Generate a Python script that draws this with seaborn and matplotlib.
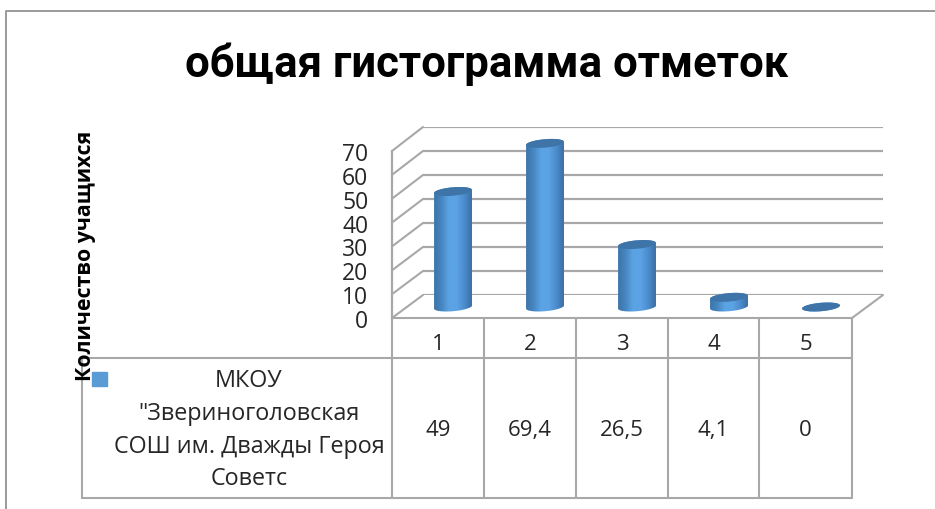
import numpy as np
import pandas as pd
import matplotlib
matplotlib.use("Agg")
import matplotlib.pyplot as plt
from matplotlib.colors import LinearSegmentedColormap
from matplotlib.patches import Polygon, Rectangle
import seaborn as sns

categories = ["1", "2", "3", "4", "5"]
values = [49, 69.4, 26.5, 4.1, 0]
yticks = [0, 10, 20, 30, 40, 50, 60, 70]
title = "общая гистограмма отметок"
ylabel = "Количество учащихся"
series_lines = ["МКОУ", "\"Звериноголовская", "СОШ им. Дважды Героя", "Советс"]

sns.set_style("white")
FONT = ["Open Sans", "DejaVu Sans"]
plt.rcParams["font.family"] = FONT

W, H = 935, 510
GRAY = "#a8a8a8"
TXT = "#262626"
fig = plt.figure(figsize=(W / 100, H / 100), dpi=100, facecolor="white")


def px_axes(x0, y0, x1, y1, z):
    a = fig.add_axes([x0 / W, 1 - y1 / H, (x1 - x0) / W, (y1 - y0) / H], zorder=z)
    a.patch.set_alpha(0)
    return a


# overlay in pixel space: frame, walls, table, texts
ov = px_axes(0, 0, W, H, 0)
ov.set_xlim(0, W)
ov.set_ylim(H, 0)
ov.axis("off")
ov.plot([6, 6, W], [H, 12, 12], color="#9a9a9a", lw=1.4)

# back wall grid
back = px_axes(423, 128, 883, 296, 1)
back.set_ylim(0, 70)
back.set_yticks(yticks)
back.set_xticks([])
back.tick_params(left=False, labelleft=False)
back.grid(axis="y", color=GRAY, lw=1.6)
sns.despine(ax=back, left=True, right=True, top=True, bottom=True)

# front wall with the value axis
wall = px_axes(392, 152, 394, 319, 2)
wall.set_ylim(0, 70)
wall.set_yticks(yticks)
wall.set_xticks([])
wall.tick_params(axis="y", length=0, pad=17, labelsize=16.5, labelcolor=TXT)
for s in ("top", "right", "bottom"):
    wall.spines[s].set_visible(False)
wall.spines["left"].set_color(GRAY)
wall.spines["left"].set_linewidth(1.6)

for t in yticks:
    ov.plot([392, 423], [319 - t * 167 / 70, 296 - t * 168 / 70], color=GRAY, lw=1.5)
ov.plot([852, 883], [319, 296], color=GRAY, lw=1.5)

# table
for y, x0 in ((319, 392), (359, 82), (499, 82)):
    ov.plot([x0, 852], [y, y], color=GRAY, lw=1.5)
columns = [392, 484, 576, 668, 759, 852]
for x in columns:
    ov.plot([x, x], [319, 499], color=GRAY, lw=1.5)
ov.plot([82, 82], [359, 499], color=GRAY, lw=1.5)
for i, c in enumerate(categories):
    xc = (columns[i] + columns[i + 1]) / 2
    ov.text(xc, 345, c, ha="center", va="center", fontsize=16, color=TXT)
    ov.text(xc, 431, f"{values[i]:g}".replace(".", ","), ha="center", va="center",
            fontsize=16, color=TXT)
for line, y in zip(series_lines, (381, 414, 447, 479)):
    ov.text(249, y, line, ha="center", va="center", fontsize=16.8, color=TXT)
ov.add_patch(Rectangle((92, 373), 15, 14, color="#5b9bd5", zorder=6))
ov.text(86, 256, ylabel, rotation=90, ha="center", va="center", fontsize=15.4,
        fontweight="bold", color="black", zorder=5)
ov.text(487, 64, title, ha="center", va="center", fontsize=31.5, fontweight="bold",
        family=["Roboto", "DejaVu Sans"], color="black")

# cylinders
ax = px_axes(407, 143, 867, 308, 3)
df = pd.DataFrame({"mark": categories, "count": values})
sns.barplot(data=df, x="mark", y="count", color="#4f92cf", saturation=1, width=0.413, ax=ax)
ax.set_xlim(-0.5, 4.5)
ax.set_ylim(0, 70)
ax.axis("off")

px_x = 460 / 5
px_y = 165 / 70
RA, RB = 19, 4.2
A, TILT = RA / px_x, np.deg2rad(5)
cmap = LinearSegmentedColormap.from_list(
    "cyl", ["#3a72a6", "#4585bf", "#5ba3e4", "#5ba3e4", "#4a8aca", "#386a9c"])


def ellipse(cx, cy, t):
    ex, ey = RA * np.cos(t), RB * np.sin(t)
    xp = ex * np.cos(TILT) - ey * np.sin(TILT)
    yp = ex * np.sin(TILT) + ey * np.cos(TILT)
    return np.column_stack([cx + xp / px_x, cy + yp / px_y])


for i, (v, bar) in enumerate(zip(values, ax.patches)):
    top = ellipse(i, v, np.linspace(0, 2 * np.pi, 80))
    lower = ellipse(i, 0, np.linspace(np.pi, 2 * np.pi, 40))
    upper = ellipse(i, v, np.linspace(0, np.pi, 40))
    body = Polygon(np.vstack([lower, upper]), transform=ax.transData, fc="none", ec="none",
                   clip_on=False)
    ax.add_patch(body)
    bar.set_clip_path(body)
    im = ax.imshow(np.linspace(0, 1, 128)[None, :], cmap=cmap, aspect="auto", zorder=3,
                   extent=(i - A * 1.05, i + A * 1.05, -8, v + 4))
    im.set_clip_box(fig.bbox)
    im.set_clip_path(body)
    ax.add_patch(Polygon(top, fc="#3f74a8", ec="none", zorder=4, clip_on=False))
ax.set_xlim(-0.5, 4.5)
ax.set_ylim(0, 70)

fig.savefig("out.png", dpi=100)
